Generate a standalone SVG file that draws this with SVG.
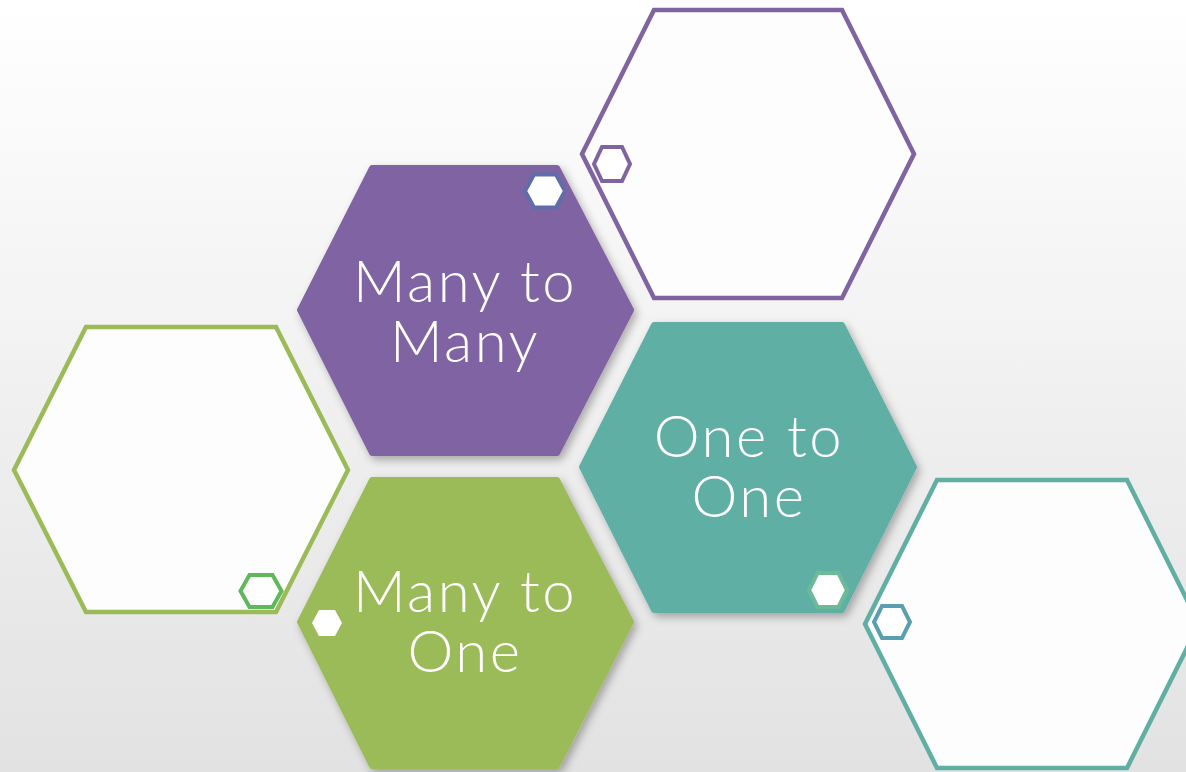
<svg xmlns="http://www.w3.org/2000/svg" width="1186" height="772" viewBox="0 0 1186 772">
<defs>
<linearGradient id="bg" x1="0" y1="0" x2="0" y2="1">
<stop offset="0" stop-color="#ffffff"/>
<stop offset="1" stop-color="#e3e2e2"/>
</linearGradient>
<filter id="sh" x="-10%" y="-10%" width="125%" height="125%">
<feDropShadow dx="3" dy="4" stdDeviation="4" flood-color="#000" flood-opacity="0.3"/>
</filter>
</defs>
<style>
.big{stroke-linejoin:round;stroke-width:6;filter:url(#sh)}
.out{fill:#fdfdfd;stroke-width:4.5;stroke-linejoin:miter}
.acc{fill:#ffffff;stroke-width:4}
.lbl{font-family:Lato,"Noto Sans",sans-serif;font-weight:300;font-size:58px;letter-spacing:2.5px;fill:#ffffff;text-anchor:middle}
</style>
<rect width="1186" height="772" fill="url(#bg)"/>
<g id="outline-purple">
<polygon class="out" stroke="#8064a2" points="582,154 654,10 842,10 914,154 842,298 654,298"/>
<polygon class="acc" stroke="#8064a2" points="594,164 602,147 622,147 630,164 622,181 602,181"/>
</g>
<g id="outline-green">
<polygon class="out" stroke="#9bbb59" points="14,470 86,327 276,327 348,470 276,612 86,612"/>
<polygon class="acc" stroke="#5fb85c" stroke-width="5" points="240.5,591 249.5,575 272.5,575 281.5,591 272.5,607 249.5,607"/>
</g>
<g id="outline-teal">
<polygon class="out" stroke="#5fafa5" points="865,624 937,480 1127,480 1199,624 1127,768 937,768"/>
<polygon class="acc" stroke="#5a9fb0" points="874,622 882,606 902,606 910,622 902,638 882,638"/>
</g>
<g id="many-to-many">
<polygon class="big" fill="#8064a2" stroke="#8064a2" points="300,310 372,168 557,168 631,310 557,453 372,453"/>
<polygon class="acc" stroke="#5f6dab" points="525,191 534,174.5 556,174.5 565,191 556,207.5 534,207.5"/>
<text class="lbl" x="465" y="302">Many to</text>
<text class="lbl" x="465" y="362">Many</text>
</g>
<g id="many-to-one">
<polygon class="big" fill="#9bbb59" stroke="#9bbb59" points="300,622 372,480 557,480 631,622 557,766 372,766"/>
<polygon fill="#ffffff" points="312,623 319,610 335,610 342,623 335,636 319,636"/>
<text class="lbl" x="465" y="612">Many to</text>
<text class="lbl" x="465" y="672">One</text>
</g>
<g id="one-to-one">
<polygon class="big" fill="#5fafa5" stroke="#5fafa5" points="582,467 654,325 842,325 914,467 842,610 654,610"/>
<polygon class="acc" stroke="#6cbb96" stroke-width="5" points="809,590 817.5,573 838.5,573 847,590 838.5,607 817.5,607"/>
<text class="lbl" x="749" y="457">One to</text>
<text class="lbl" x="749" y="517">One</text>
</g>
<g id="connectors"/>
</svg>
